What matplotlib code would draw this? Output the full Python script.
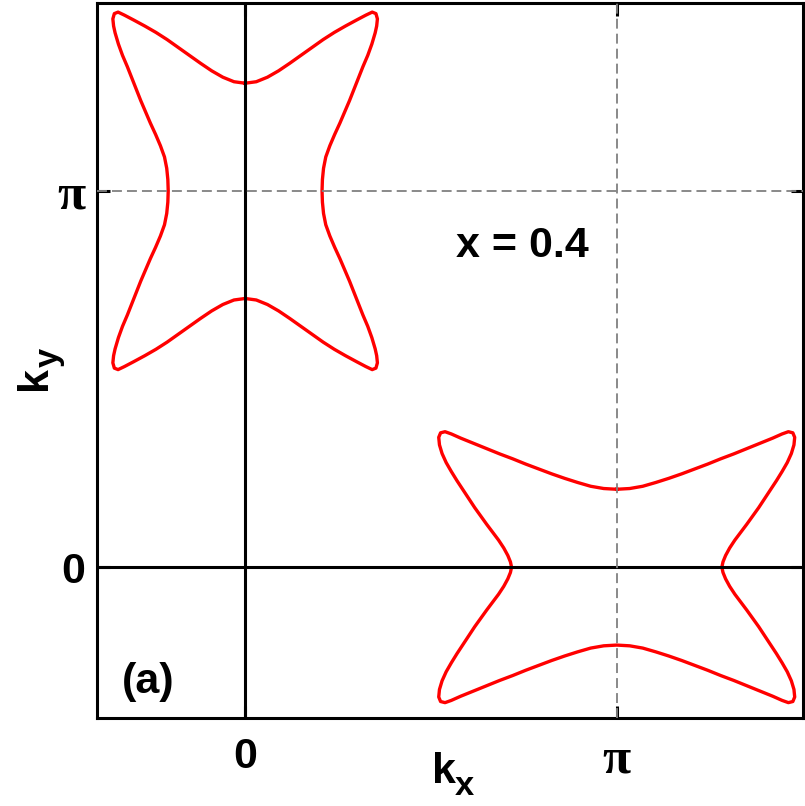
import numpy as np
import matplotlib
matplotlib.use("Agg")
import matplotlib.pyplot as plt

# Fermi-surface pockets, one traced quadrant each (units of pi, relative to pocket centre)
# pocket centred at (kx, ky) = (0, pi), elongated along ky
pocket_a_center = (0.0, 1.0)
pocket_a_dx = [0, 0.03, 0.06, 0.09, 0.12, 0.15, 0.18, 0.21, 0.24, 0.27,
               0.30, 0.325, 0.342, 0.352, 0.356, 0.354, 0.350, 0.341, 0.330, 0.317,
               0.305, 0.293, 0.281, 0.268, 0.255, 0.241, 0.228, 0.217, 0.211, 0.208, 0.207]
pocket_a_dy = [0.286, 0.290, 0.302, 0.319, 0.339, 0.360, 0.381, 0.402, 0.421, 0.438,
               0.454, 0.467, 0.475, 0.471, 0.457, 0.438, 0.420, 0.390, 0.360, 0.330,
               0.300, 0.270, 0.240, 0.210, 0.180, 0.150, 0.120, 0.090, 0.060, 0.030, 0.0]

# pocket centred at (kx, ky) = (pi, 0), elongated along kx
pocket_b_center = (1.0, 0.0)
pocket_b_dx = [0, 0.035, 0.07, 0.105, 0.14, 0.175, 0.21, 0.245, 0.28, 0.315,
               0.35, 0.385, 0.42, 0.445, 0.462, 0.474, 0.479, 0.477, 0.470, 0.459,
               0.445, 0.430, 0.414, 0.398, 0.382, 0.366, 0.350, 0.334, 0.318, 0.304,
               0.293, 0.286, 0.283]
pocket_b_dy = [0.207, 0.209, 0.215, 0.225, 0.236, 0.248, 0.261, 0.274, 0.288, 0.301,
               0.315, 0.329, 0.343, 0.354, 0.360, 0.357, 0.345, 0.325, 0.302, 0.278,
               0.254, 0.230, 0.206, 0.182, 0.158, 0.136, 0.114, 0.093, 0.072, 0.051,
               0.031, 0.014, 0.0]

tick_vals = [0.0, 1.0]
tick_labels = ["0", "\u03c0"]
doping_label = "x = 0.4"
panel_label = "(a)"

W, H = 805, 806
SANS = "Liberation Sans"
SERIF = "Liberation Serif"
FS = 31


def full_contour(center, qx, qy):
    # quadrant is mirrored about the pocket centre (fourfold-symmetric pocket)
    qx = np.asarray(qx)
    qy = np.asarray(qy)
    x = np.concatenate([qx, qx[::-1], -qx, -qx[::-1]])
    y = np.concatenate([qy, -qy[::-1], -qy, qy[::-1]])
    return (center[0] + x) * np.pi, (center[1] + y) * np.pi


fig = plt.figure(figsize=(W / 100, H / 100), dpi=100)
ax = fig.add_axes([96.5 / W, 1 - 717.7 / H, (802.5 - 96.5) / W, (717.7 - 2.7) / H])

for c, qx, qy in [(pocket_a_center, pocket_a_dx, pocket_a_dy),
                  (pocket_b_center, pocket_b_dx, pocket_b_dy)]:
    px, py = full_contour(c, qx, qy)
    ax.plot(px, py, color="#ff0000", lw=2.4, solid_joinstyle="round", zorder=2)

ax.axvline(0, color="black", lw=2.2, zorder=3)
ax.axhline(0, color="black", lw=2.2, zorder=3)
ax.axvline(np.pi, color="#808080", lw=1.3, ls=(0, (5.5, 2.8)), zorder=3)
ax.axhline(np.pi, color="#808080", lw=1.3, ls=(0, (5.5, 2.8)), zorder=3)

ax.set_xlim(-0.4 * np.pi, 1.5 * np.pi)
ax.set_ylim(-0.4 * np.pi, 1.5 * np.pi)

ticks = [v * np.pi for v in tick_vals]
ax.set_xticks(ticks)
ax.set_yticks(ticks)
ax.set_xticklabels(tick_labels)
ax.set_yticklabels(tick_labels)
ax.tick_params(direction="in", length=9, width=2.2, top=True, right=True)
ax.tick_params(axis="x", pad=14)
ax.tick_params(axis="y", pad=8)
for lab in ax.get_xticklabels() + ax.get_yticklabels():
    lab.set_fontweight("bold")
    if lab.get_text() == "0":
        lab.set_fontfamily(SANS)
        lab.set_fontsize(FS)
    else:
        lab.set_fontfamily(SERIF)
        lab.set_fontsize(37)

for s in ax.spines.values():
    s.set_linewidth(2.2)

# axis labels k_x and k_y with large subscripts
fig.text(431.7 / W, 1 - 783 / H, "k", fontsize=FS, fontweight="bold", family=SANS,
         ha="left", va="baseline")
fig.text(455 / W, 1 - 795 / H, "x", fontsize=FS * 0.8, fontweight="bold", family=SANS,
         ha="left", va="baseline")
fig.text(46 / W, 1 - 390 / H, "k", fontsize=FS, fontweight="bold", family=SANS,
         ha="left", va="baseline", rotation=90, rotation_mode="anchor")
fig.text(58 / W, 1 - 367 / H, "y", fontsize=FS * 0.8, fontweight="bold", family=SANS,
         ha="left", va="baseline", rotation=90, rotation_mode="anchor")

fig.text(456 / W, 1 - 256.7 / H, doping_label, fontsize=FS, fontweight="bold",
         family=SANS, ha="left", va="baseline")
fig.text(121.7 / W, 1 - 693 / H, panel_label, fontsize=FS, fontweight="bold",
         family=SANS, ha="left", va="baseline")

fig.savefig("out.png", dpi=100)
